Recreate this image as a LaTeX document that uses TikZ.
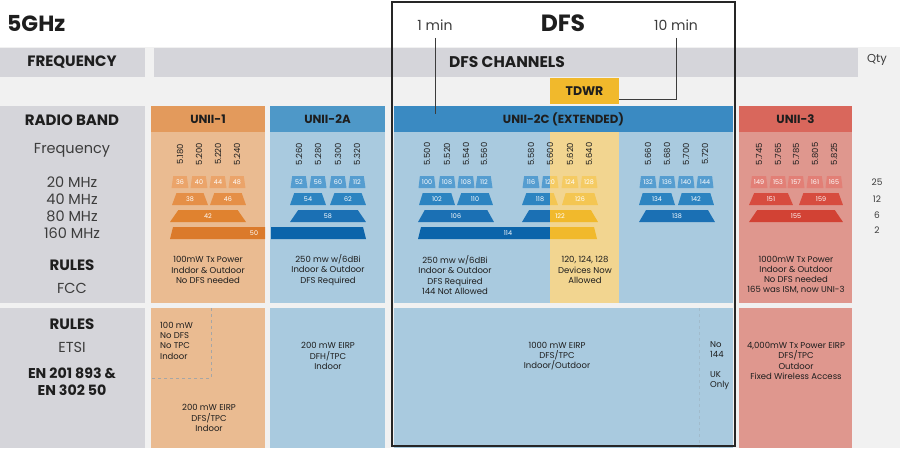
\documentclass[tikz,border=0pt]{standalone}
\usepackage{fontspec}
\setmainfont{Poppins}
\usetikzlibrary{shapes.geometric,positioning}
\definecolor{ink}{HTML}{1E1E1E}
\definecolor{txt}{HTML}{3C3C3C}
\definecolor{bgpale}{HTML}{F1F1F1}
\definecolor{sidegray}{HTML}{D5D5DA}
\definecolor{orhead}{HTML}{E39A5C}
\definecolor{orbody}{HTML}{EABB91}
\definecolor{orA}{HTML}{EBA46A}
\definecolor{orB}{HTML}{E58F47}
\definecolor{orC}{HTML}{E0822F}
\definecolor{orD}{HTML}{DB7A2B}
\definecolor{bluhead}{HTML}{4E98C8}
\definecolor{bluheadx}{HTML}{3A8AC2}
\definecolor{blubody}{HTML}{A9CADF}
\definecolor{bluA}{HTML}{559DD0}
\definecolor{bluB}{HTML}{2C84C1}
\definecolor{bluC}{HTML}{1B70B4}
\definecolor{bluD}{HTML}{0B64AA}
\definecolor{redhead}{HTML}{D9675C}
\definecolor{redbody}{HTML}{DF978E}
\definecolor{redA}{HTML}{E27F76}
\definecolor{redB}{HTML}{D74C3F}
\definecolor{redC}{HTML}{D24234}
\definecolor{tdwr}{HTML}{F1B92C}
\definecolor{tdwrpale}{HTML}{F2D590}
\definecolor{ylA}{HTML}{F5CB63}
\definecolor{ylB}{HTML}{F4C652}

\begin{document}
\begin{tikzpicture}[x=1pt,y=-1pt,
  hd/.style={font=\bfseries\fontsize{11.8}{13}\selectfont,text=ink,minimum height=26pt,inner sep=0pt},
  big/.style={font=\bfseries\fontsize{15}{18}\selectfont,text=ink},
  thin/.style={font=\fontsize{14.5}{17}\selectfont,text=txt},
  note/.style={font=\fontsize{8.5}{10.2}\selectfont,text=ink,align=center,inner sep=0pt},
  frq/.style={font=\fontsize{8.4}{9}\selectfont,text=ink,rotate=90,inner sep=0pt},
  chlbl/.style={inner sep=0pt,text=white,font=\fontsize{6.4}{7}\selectfont},
  ch/.style={chlbl,trapezium,trapezium stretches=true,minimum height=12pt},
  ch20/.style={ch,minimum width=17pt,trapezium angle=78},
  ch40/.style={ch,minimum width=36pt,trapezium angle=75},
  ch80/.style={ch,minimum width=76pt,trapezium angle=77},
  leader/.style={draw=txt,line width=0.7pt}]
\useasboundingbox (0,0) rectangle (900,448);
\fill[bgpale] (0,47) rectangle (900,448);

% top rows
\fill[sidegray] (0,48) rectangle (145,77);
\fill[sidegray] (154,48) rectangle (858,77);
\node[big] (freqbar) at (72,62.5) {FREQUENCY};
\node[big,font=\bfseries\fontsize{15.5}{18}\selectfont] (dfsbar) at (507,62.5) {DFS CHANNELS};
\node[font=\fontsize{11.5}{13}\selectfont,text=txt] (qty) at (877,60) {Qty};
\node[font=\bfseries\fontsize{22}{26}\selectfont,text=ink,anchor=west,inner sep=0pt] (ghz) at (7,23.5) {5GHz};
\node[font=\bfseries\fontsize{23.5}{26}\selectfont,text=ink] (dfs) at (563,23.5) {DFS};
\node[font=\fontsize{14}{16}\selectfont,text=txt] (m1) at (435,25) {1 min};
\node[font=\fontsize{14}{16}\selectfont,text=txt] (m10) at (676,25) {10 min};
\node[fill=tdwr,minimum width=69pt,minimum height=26pt,inner sep=0pt,font=\bfseries\fontsize{12.5}{14}\selectfont,text=ink] (tdwrbox) at (584.5,91) {TDWR};

% side column
\fill[sidegray] (0,106) rectangle (145,303);
\fill[sidegray] (0,308) rectangle (145,448);
\node[big] (band) at (72,120) {RADIO BAND};
\node[thin] (freq) at (72,150) {Frequency};
\foreach \w/\y in {20/182,40/199,80/216,160/233} \node[thin] (w\w) at (72,\y) {\w\ MHz};
\node[big] (fccrules) at (72,265) {RULES};
\node[thin] (fcc) at (72,288) {FCC};
\node[big] (etsirules) at (72,324) {RULES};
\node[thin] (etsi) at (72,347) {ETSI};
\node[big,align=center,font=\bfseries\fontsize{14.2}{17}\selectfont] (en) at (72,381.5) {EN 201 893 \&\\EN 302 50};

% band cells
\fill[orbody] (151,132) rectangle (265,303);
\fill[orbody] (151,308) rectangle (265,448);
\fill[blubody] (270,132) rectangle (385,303);
\fill[blubody] (270,308) rectangle (385,448);
\fill[blubody] (394,132) rectangle (733,303);
\fill[blubody] (394,308) rectangle (733,448);
\fill[redbody] (739,132) rectangle (852,303);
\fill[redbody] (739,308) rectangle (852,448);
\node[hd,fill=orhead,minimum width=114pt] (unii1) at (208,119) {UNII-1};
\node[hd,fill=bluhead,minimum width=115pt] (unii2a) at (327.5,119) {UNII-2A};
\node[hd,fill=bluheadx,minimum width=339pt] (unii2c) at (563.5,119) {UNII-2C (EXTENDED)};
\node[hd,fill=redhead,minimum width=113pt] (unii3) at (795.5,119) {UNII-3};

% channels
\foreach \n/\x [count=\i] in {36/180,40/199,44/218,48/237} \node[ch20,fill=orA] (a20-\i) at (\x,182) {\n};
\foreach \n/\x [count=\i] in {38/190,46/228} \node[ch40,fill=orB] (a40-\i) at (\x,199) {\n};
\node[ch80,fill=orC] (a80) at (208,216) {42};
\fill[orD] (170,239) -- (173,227) -- (265,227) -- (265,239) -- cycle;
\fill[bluD] (271,239) -- (271,227) -- (363,227) -- (366,239) -- cycle;
\node[chlbl] (a160) at (254,233) {50};
\foreach \n/\x [count=\i] in {52/299,56/318,60/338,112/357} \node[ch20,fill=bluA] (b20-\i) at (\x,182) {\n};
\foreach \n/\x [count=\i] in {54/308,62/348} \node[ch40,fill=bluB] (b40-\i) at (\x,199) {\n};
\node[ch80,fill=bluC] (b80) at (328,216) {58};
\foreach \n/\x [count=\i] in {100/427,108/447,108/466,112/484,116/531,120/550,124/570,128/589,132/648,136/667,140/686,144/705}
  \node[ch20,fill=bluA] (c20-\i) at (\x,182) {\n};
\foreach \n/\x [count=\i] in {102/437,110/475,118/540,126/580,134/657,142/696} \node[ch40,fill=bluB] (c40-\i) at (\x,199) {\n};
\foreach \n/\x [count=\i] in {106/456,122/560,138/677} \node[ch80,fill=bluC] (c80-\i) at (\x,216) {\n};
\fill[bluD] (418,239) -- (421,227) -- (594,227) -- (597,239) -- cycle;
\node[chlbl] (c160) at (508,233) {114};
\foreach \n/\x [count=\i] in {149/759,153/778,157/796,161/815,165/834} \node[ch20,fill=redA] (d20-\i) at (\x,182) {\n};
\foreach \n/\x [count=\i] in {151/771,159/821} \node[ch40,fill=redB,minimum width=44pt] (d40-\i) at (\x,199) {\n};
\node[ch80,fill=redC,minimum width=94pt] (d80) at (796,216) {155};

% TDWR band
\begin{scope}
\clip (550,132) rectangle (619,303);
\fill[tdwrpale] (550,132) rectangle (619,303);
\foreach \n/\x [count=\i] in {120/550,124/570,128/589} \node[ch20,fill=ylA] (y20-\i) at (\x,182) {\n};
\foreach \n/\x [count=\i] in {118/540,126/580} \node[ch40,fill=ylB] (y40-\i) at (\x,199) {\n};
\node[ch80,fill=tdwr] (y80) at (560,216) {122};
\fill[tdwr] (418,239) -- (421,227) -- (594,227) -- (597,239) -- cycle;
\end{scope}

% frequencies
\foreach \f/\x in {5.180/180,5.200/199,5.220/218,5.240/237,5.260/299,5.280/318,5.300/338,5.320/357,
  5.500/427,5.520/447,5.540/466,5.560/484,5.580/531,5.600/550,5.620/570,5.640/589,
  5.660/648,5.680/667,5.700/686,5.720/705,5.745/759,5.765/778,5.785/796,5.805/815,5.825/834}
  \node[frq] (f\x) at (\x,154) {\f};
\foreach \q/\y in {25/182,12/199,6/215,2/230} \node[font=\fontsize{9}{10}\selectfont,text=txt] (q\q) at (877,\y) {\q};

% FCC rules
\node[note] (r1) at (208,270) {100mW Tx Power\\Inddor \& Outdoor\\No DFS needed};
\node[note] (r2a) at (328,270) {250 mw w/6dBi\\Indoor \& Outdoor\\DFS Required};
\node[note] (r2c) at (455,275) {250 mw w/6dBi\\Indoor \& Outdoor\\DFS Required\\144 Not Allowed};
\node[note] (rtd) at (585,270) {120, 124, 128\\Devices Now\\Allowed};
\node[note] (r3) at (796,275) {1000mW Tx Power\\Indoor \& Outdoor\\No DFS needed\\165 was ISM, now UNI-3};

% ETSI rules
\draw[gray!70,dashed,line width=0.8pt] (211,308) -- (211,378) -- (151,378);
\node[note,align=left,anchor=north west] (e1a) at (160,322) {100 mW\\No DFS\\No TPC\\Indoor};
\node[note] (e1b) at (209,418) {200 mW EIRP\\DFS/TPC\\Indoor};
\node[note] (e2a) at (328,356) {200 mW EIRP\\DFH/TPC\\Indoor};
\node[note] (e2c) at (557,356) {1000 mW EIRP\\DFS/TPC\\Indoor/Outdoor};
\draw[blubody!80!gray,dashed,line width=0.7pt] (699,308) -- (699,448);
\node[note,align=left,anchor=north west] (uk) at (710,341) {No\\144\\[10pt]UK\\Only};
\node[note] (e3) at (796,361) {4,000mW Tx Power EIRP\\DFS/TPC\\Outdoor\\Fixed Wireless Access};

% DFS frame and timers
\coordinate (m1end) at (435,114);
\draw[leader,shorten <=4pt] (m1.south) -- (m1end);
\draw[leader,shorten <=4pt] (m10.south) |- ([yshift=5pt]tdwrbox.south east);
\draw[line width=1.8pt,black!85] (392,2) rectangle (735,446);
\end{tikzpicture}
\end{document}
